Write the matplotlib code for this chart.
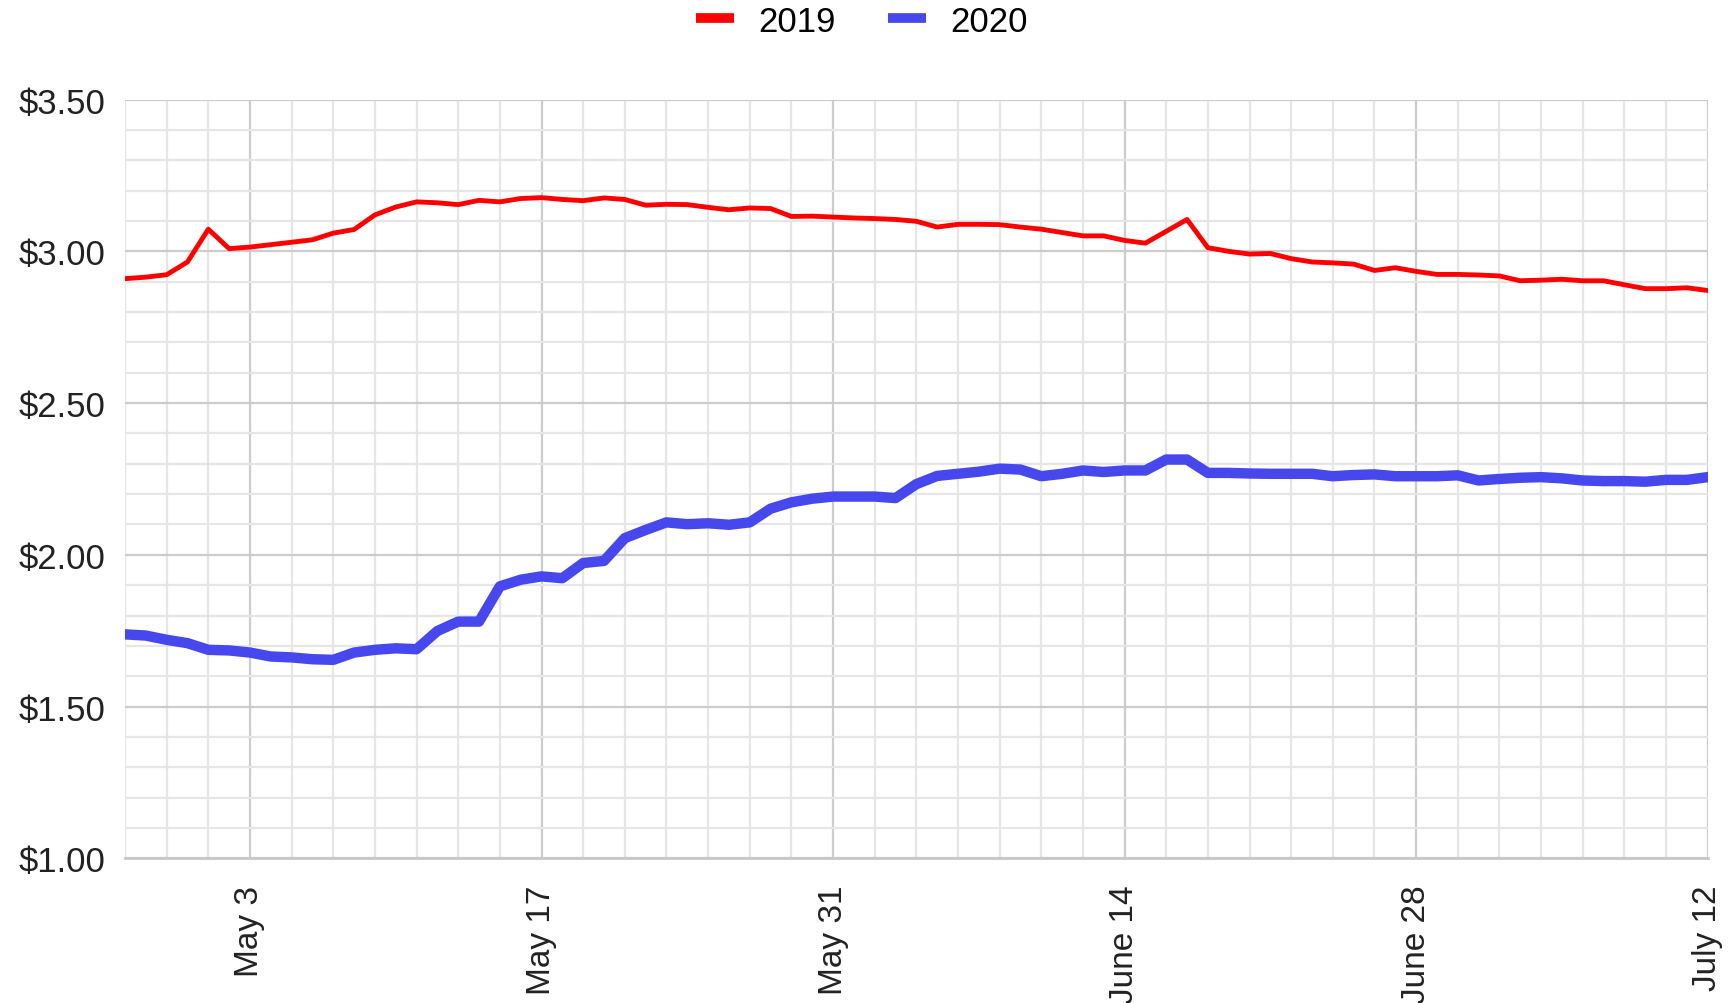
import pandas as pd
import matplotlib
matplotlib.use('Agg')
import matplotlib.pyplot as plt
from matplotlib.lines import Line2D
from matplotlib.ticker import FuncFormatter, MultipleLocator

plt.rcParams['font.family'] = ['Liberation Sans', 'DejaVu Sans']

# daily prices, Apr 27 -> July 12
dates = pd.date_range('2020-04-27', '2020-07-12', freq='D')

price_2019 = [
    2.91, 2.915, 2.923, 2.965, 3.073, 3.009, 3.014, 3.022, 3.030, 3.038,
    3.060, 3.072, 3.120, 3.146, 3.163, 3.160, 3.154, 3.168, 3.163, 3.174,
    3.177, 3.171, 3.167, 3.176, 3.171, 3.152, 3.155, 3.154, 3.145, 3.137,
    3.143, 3.141, 3.115, 3.116, 3.113, 3.110, 3.108, 3.105, 3.099, 3.080,
    3.089, 3.089, 3.088, 3.080, 3.073, 3.062, 3.051, 3.051, 3.036, 3.027,
    3.066, 3.105, 3.012, 3.000, 2.991, 2.993, 2.976, 2.965, 2.962, 2.958,
    2.937, 2.946, 2.934, 2.924, 2.924, 2.922, 2.919, 2.903, 2.905, 2.908,
    2.903, 2.903, 2.890, 2.877, 2.877, 2.880, 2.871,
]

price_2020 = [
    1.738, 1.734, 1.720, 1.709, 1.687, 1.685, 1.678, 1.665, 1.662, 1.656,
    1.654, 1.678, 1.687, 1.692, 1.689, 1.749, 1.780, 1.780, 1.896, 1.918,
    1.929, 1.923, 1.973, 1.980, 2.055, 2.082, 2.107, 2.101, 2.104, 2.099,
    2.107, 2.152, 2.173, 2.185, 2.192, 2.192, 2.192, 2.187, 2.233, 2.260,
    2.267, 2.274, 2.284, 2.281, 2.259, 2.267, 2.278, 2.273, 2.278, 2.278,
    2.314, 2.314, 2.270, 2.270, 2.268, 2.267, 2.267, 2.267, 2.259, 2.263,
    2.265, 2.259, 2.259, 2.259, 2.262, 2.245, 2.250, 2.254, 2.256, 2.252,
    2.245, 2.243, 2.243, 2.241, 2.247, 2.247, 2.256,
]

tick_labels = ['May 3', 'May 17', 'May 31', 'June 14', 'June 28', 'July 12']
tick_dates = pd.date_range('2020-05-03', periods=len(tick_labels), freq='14D')
minor_dates = pd.date_range('2020-04-27', '2020-07-12', freq='2D')

fig = plt.figure(figsize=(17.34, 10.04), dpi=100)
ax = fig.add_axes([0.0721, 0.1441, 0.9127, 0.7557])

ax.plot(dates, price_2019, color='#ff0000', lw=3.5, solid_joinstyle='round', zorder=3)
ax.plot(dates, price_2020, color='#4747ee', lw=7.5, solid_joinstyle='round', zorder=3)

ax.set_xlim(dates[0], dates[-1])
ax.set_ylim(1.0, 3.5)

# grid: majors every $0.50 / 14 days, minors every $0.10 / 2 days
ax.yaxis.set_major_locator(MultipleLocator(0.5))
ax.yaxis.set_minor_locator(MultipleLocator(0.1))
ax.set_xticks(tick_dates)
ax.set_xticklabels(tick_labels)
ax.set_xticks(minor_dates, minor=True)
ax.yaxis.set_major_formatter(FuncFormatter(lambda v, p: '${:.2f}'.format(v)))

ax.grid(which='major', color='#cccccc', lw=1.6, zorder=0)
ax.grid(which='minor', color='#e6e6e6', lw=1.6, zorder=0)
ax.set_axisbelow(True)

for side in ['top', 'left', 'right']:
    ax.spines[side].set_visible(False)
ax.spines['bottom'].set_color('#c8c8c8')
ax.spines['bottom'].set_linewidth(2)

ax.tick_params(which='both', length=0)
ax.tick_params(axis='y', labelsize=25, pad=14, colors='#222222')
ax.tick_params(axis='x', labelsize=24, pad=19, colors='#222222')
for lbl in ax.get_xticklabels():
    lbl.set_rotation(90)
    lbl.set_ha('center')
    lbl.set_va('top')

handles = [Line2D([], [], color='#ff0000', lw=7, solid_capstyle='butt'),
           Line2D([], [], color='#4747ee', lw=7, solid_capstyle='butt')]
fig.legend(handles, ['2019', '2020'], loc='center', bbox_to_anchor=(0.497, 0.978),
           ncol=2, frameon=False, fontsize=25, handlelength=1.1,
           handletextpad=0.7, columnspacing=1.5)

fig.savefig('out.png', dpi=100)
